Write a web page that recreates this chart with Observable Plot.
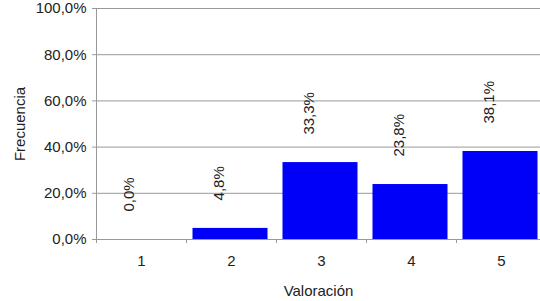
<!DOCTYPE html>
<html>
<head>
<meta charset="utf-8">
<script src="https://cdn.jsdelivr.net/npm/d3@7"></script>
<script src="https://cdn.jsdelivr.net/npm/@observablehq/plot@0.6"></script>
<style>
  html, body { margin: 0; padding: 0; background: #fff; }
</style>
</head>
<body>
<div id="chart"></div>
<script>
const categories = [1, 2, 3, 4, 5];
const values = [0.0, 4.8, 33.3, 23.8, 38.1];
const yTicks = [0, 20, 40, 60, 80, 100];
const xTitle = "Valoración";
const yTitle = "Frecuencia";

const data = categories.map((c, i) => ({cat: c, value: values[i]}));
const bounds = [0.5, ...categories.map(c => c + 0.5)];
const fmt = v => v.toFixed(1).replace(".", ",") + "%";

const chart = Plot.plot({
  width: 540,
  height: 301,
  marginLeft: 96,
  marginRight: 0,
  marginTop: 8,
  marginBottom: 62,
  style: {fontFamily: "'Liberation Sans', Arial, sans-serif", fontSize: "15px", color: "#222", background: "#fff"},
  x: {type: "linear", domain: [0.5, 5.5], range: [96, 546]},
  y: {domain: [0, 100]},
  marks: [
    Plot.gridY(yTicks, {stroke: "#999", strokeOpacity: 1}),
    Plot.ruleX([0.5], {stroke: "#999"}),
    Plot.ruleY([0], {stroke: "#999"}),
    Plot.rectY(data, {x1: d => d.cat - 0.5, x2: d => d.cat + 0.5, y: "value", insetLeft: 6.5, insetRight: 8.5, fill: "#0000f8"}),
    Plot.text(data, {x: "cat", y: "value", text: d => fmt(d.value), rotate: -90, textAnchor: "start", lineAnchor: "middle", dx: -12, dy: -28, fontSize: 15, fill: "#222"}),
    Plot.axisY(yTicks, {tickFormat: fmt, tickSize: 4, tickPadding: 6, stroke: "#999", fill: "#222", label: yTitle, labelAnchor: "center", labelArrow: "none", labelOffset: 82}),
    Plot.axisX(bounds, {tickSize: 4, tickFormat: () => "", stroke: "#999", label: null}),
    Plot.axisX(categories, {tickSize: 0, tickPadding: 16, tickFormat: d => String(d), fill: "#222", label: xTitle, labelAnchor: "center", labelArrow: "none", labelOffset: 56})
  ]
});
document.getElementById("chart").appendChild(chart);
</script>
</body>
</html>
